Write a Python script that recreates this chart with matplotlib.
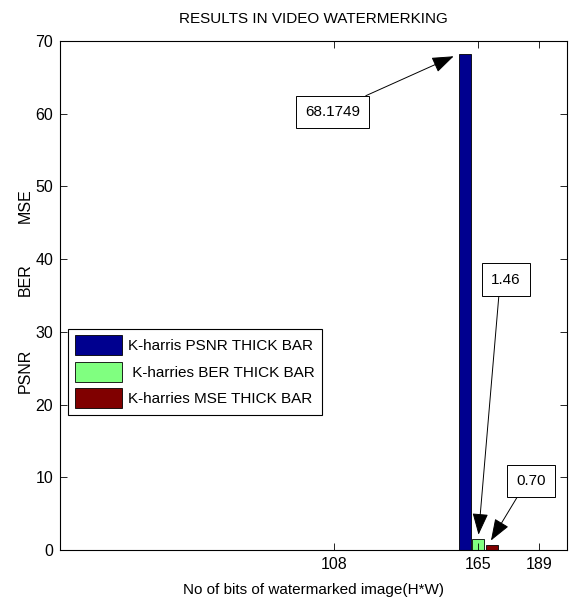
import matplotlib
matplotlib.use("Agg")
from matplotlib import pyplot as plt

# data
bits = [108, 165, 189]
psnr = [0, 68.1749, 0]
ber = [0, 1.46, 0]
mse = [0, 0.70, 0]
series_labels = ["K-harris PSNR THICK BAR",
                 " K-harries BER THICK BAR",
                 "K-harries MSE THICK BAR"]
yticks = [0, 10, 20, 30, 40, 50, 60, 70]

plt.rcParams["font.family"] = ["Liberation Sans", "DejaVu Sans"]
plt.rcParams["font.size"] = 11

fig = plt.figure(figsize=(5.73, 6.04), dpi=100)
ax = fig.add_axes([60 / 573, 54 / 604, 507 / 573, 509 / 604])

colors = ["#00008f", "#80ff80", "#800000"]
offsets = [-5.4, 0.0, 5.4]
width = 4.8
for vals, off, col, lab in zip([psnr, ber, mse], offsets, colors, series_labels):
    ax.bar([b + off for b in bits], vals, width=width, color=col,
           edgecolor="black", linewidth=0.6, label=lab)

ax.set_xlim(0, 200)
ax.set_ylim(0, 70)
ax.set_xticks(bits)
ax.set_yticks(yticks)
ax.tick_params(direction="in", top=True, right=True, length=5, width=0.6, pad=5,
               labelsize=11.5)
for s in ax.spines.values():
    s.set_linewidth(0.8)

ax.set_title("RESULTS IN VIDEO WATERMERKING", fontsize=11, pad=13)
ax.set_xlabel("No of bits of watermarked image(H*W)", fontsize=11, labelpad=8)

# stacked y labels
ax.text(-0.068, 24.7 / 70, "PSNR", transform=ax.transAxes, rotation=90,
        ha="center", va="center", fontsize=11.5)
ax.text(-0.068, 37.2 / 70, "BER", transform=ax.transAxes, rotation=90,
        ha="center", va="center", fontsize=11.5)
ax.text(-0.068, 47.4 / 70, "MSE", transform=ax.transAxes, rotation=90,
        ha="center", va="center", fontsize=11.5)

box = dict(boxstyle="square,pad=0.6", fc="white", ec="black", lw=0.7)
head = "-|>,head_length=0.9,head_width=0.33"

ax.annotate("68.1749", xy=(155.3, 67.9), xytext=(107.5, 60.2),
            ha="center", va="center", bbox=box,
            arrowprops=dict(arrowstyle=head, color="black", lw=0.7,
                            mutation_scale=15, relpos=(0.72, 1.0),
                            shrinkA=0, shrinkB=0))
ax.annotate("1.46", xy=(165.1, 2.1), xytext=(176.0, 37.2),
            ha="center", va="center", bbox=box,
            arrowprops=dict(arrowstyle=head, color="black", lw=0.7,
                            mutation_scale=15, relpos=(0.28, 0.0),
                            shrinkA=0, shrinkB=0))
ax.annotate("0.70", xy=(170.0, 1.3), xytext=(185.8, 9.5),
            ha="center", va="center", bbox=box,
            arrowprops=dict(arrowstyle=head, color="black", lw=0.7,
                            mutation_scale=15, relpos=(0.22, 0.0),
                            shrinkA=0, shrinkB=0))

leg = ax.legend(loc="upper left", bbox_to_anchor=(0.016, 0.435),
                fancybox=False, edgecolor="black", framealpha=1,
                handlelength=3.1, handleheight=1.6, labelspacing=0.45,
                borderaxespad=0, borderpad=0.45, handletextpad=0.4, fontsize=11)
leg.get_frame().set_linewidth(0.8)

fig.savefig("out.png", dpi=100)
